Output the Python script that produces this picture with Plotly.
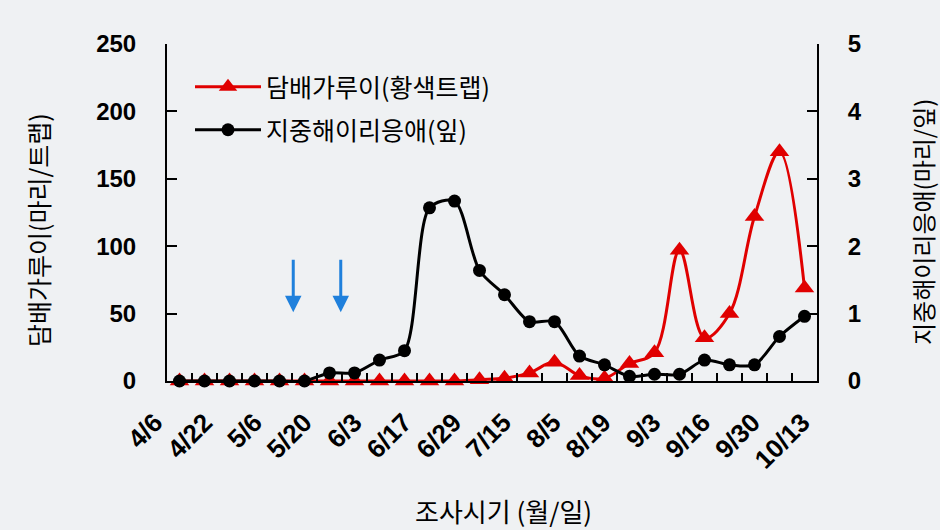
import plotly.graph_objects as go

# ---- data ----
sample_index = list(range(26))  # weekly surveys, 4/6 ... 10/13
whitefly_trap = [0, 0, 0, 0, 0, 0, 0, 0, 0, 0, 0, 0,
                 1, 2, 6, 14, 4, 2, 13, 21, 97, 32, 50, 122, 170, 69]
mite_leaf = [0, 0, 0, 0, 0, 0, 0.12, 0.12, 0.31, 0.45, 2.57, 2.67,
             1.64, 1.28, 0.88, 0.88, 0.37, 0.24, 0.07, 0.10, 0.10, 0.31,
             0.24, 0.24, 0.66, 0.96]
date_labels = ['4/6', '4/22', '5/6', '5/20', '6/3', '6/17', '6/29', '7/15',
               '8/5', '8/19', '9/3', '9/16', '9/30', '10/13']
spray_x = [4.55, 6.45]
spray_y = 51

name_wf = '담배가루이(황색트랩)'
name_mite = '지중해이리응애(잎)'

# ---- style ----
BG = '#eff1f3'
RED = '#e00000'
BLUE = '#1f80dc'
KR = 'Noto Sans CJK KR'
NUM = 'Liberation Sans'
W, H = 940, 530
L, R, T, B = 147, 103, 44, 149
PW = W - L - R
PH = H - T - B
X0, X1 = 167, 817  # pixel positions of the left / right axis lines

fig = go.Figure()
fig.add_trace(go.Scatter(
    x=sample_index, y=whitefly_trap, name=name_wf, mode='lines+markers',
    line=dict(color=RED, width=3, shape='spline', smoothing=1),
    marker=dict(symbol='triangle-up', size=17, color=RED),
    xaxis='x', yaxis='y', cliponaxis=False, legend='legend'))
fig.add_trace(go.Scatter(
    x=sample_index, y=mite_leaf, name=name_mite, mode='lines+markers',
    line=dict(color='black', width=3, shape='spline', smoothing=0.8),
    marker=dict(symbol='circle', size=13, color='black'),
    xaxis='x', yaxis='y2', cliponaxis=False, legend='legend2'))
# carrier for the date label axis
fig.add_trace(go.Scatter(x=[], y=[], xaxis='x2', yaxis='y', showlegend=False,
                         hoverinfo='skip'))

numfont = dict(family=NUM, size=24, color='black', weight='bold')
datefont = dict(family=NUM, size=26, color='black', weight='bold')

# date label axis: label k sits at pixel 155 + 49.8*k
lab_step = 49.8
lab_a = -(155 - L) / lab_step
lab_b = lab_a + PW / lab_step

fig.update_layout(
    width=W, height=H,
    margin=dict(l=L, r=R, t=T, b=B, pad=0),
    paper_bgcolor=BG, plot_bgcolor='rgba(0,0,0,0)',
    showlegend=True,
    xaxis=dict(domain=[(X0 - L) / PW, (X1 - L) / PW], anchor='y',
               range=[-0.5, 25.5],
               tickvals=[i + 0.5 for i in range(25)],
               ticks='inside', ticklen=8, tickwidth=1.5, tickcolor='black',
               showticklabels=False, showline=True, linewidth=2,
               linecolor='black', showgrid=False, zeroline=False),
    xaxis2=dict(domain=[0, 1], anchor='y', side='bottom',
                range=[lab_a, lab_b],
                tickvals=list(range(len(date_labels))), ticktext=date_labels,
                tickangle=-45, ticks='', showline=False, showgrid=False,
                zeroline=False, tickfont=datefont, ticklabelstandoff=20),
    yaxis=dict(range=[0, 250], tickvals=[0, 50, 100, 150, 200, 250],
               anchor='x', ticks='inside', ticklen=10, tickwidth=1.5,
               tickcolor='black', showline=True, linewidth=2,
               linecolor='black', showgrid=False, zeroline=False,
               tickfont=numfont, ticklabelstandoff=24),
    yaxis2=dict(range=[0, 5], tickvals=[0, 1, 2, 3, 4, 5], overlaying='y',
                side='right', anchor='x', ticks='inside', ticklen=10,
                tickwidth=1.5, tickcolor='black', showline=True, linewidth=2,
                linecolor='black', showgrid=False, zeroline=False,
                tickfont=numfont, ticklabelstandoff=24),
    legend=dict(x=(190 - L) / PW, y=(H - B - 87) / PH + 0,
                xanchor='left', yanchor='middle', bgcolor='rgba(0,0,0,0)',
                font=dict(family=KR, size=25, color='black'), itemwidth=66),
    legend2=dict(x=(190 - L) / PW, y=(H - B - 130) / PH,
                 xanchor='left', yanchor='middle', bgcolor='rgba(0,0,0,0)',
                 font=dict(family=KR, size=25, color='black'), itemwidth=66),
)

ann = [
    dict(text='담배가루이(마리/트랩)', xref='paper', yref='paper',
         x=(38 - L) / PW, y=(H - B - 230) / PH, textangle=-90,
         showarrow=False, font=dict(family=KR, size=25, color='black'),
         xanchor='center', yanchor='middle'),
    dict(text='지중해이리응애(마리/잎)', xref='paper', yref='paper',
         x=(922 - L) / PW, y=(H - B - 222) / PH, textangle=-90,
         showarrow=False, font=dict(family=KR, size=24, color='black'),
         xanchor='center', yanchor='middle'),
    dict(text='조사시기 (월/일)', xref='paper', yref='paper',
         x=(503 - L) / PW, y=(H - B - 510) / PH, showarrow=False,
         font=dict(family=KR, size=26, color='black'),
         xanchor='center', yanchor='middle'),
]
for sx in spray_x:
    ann.append(dict(x=sx, y=spray_y, xref='x', yref='y', text='',
                    showarrow=True, ax=0, ay=-54, arrowhead=2,
                    arrowsize=1.1, arrowwidth=3, arrowcolor=BLUE,
                    standoff=0, startstandoff=0))
fig.update_layout(annotations=ann)

fig.write_html('out.html',
               config={'displayModeBar': False},
               post_script="document.body.style.margin='0px';"
                           "document.body.style.background='" + BG + "';")
